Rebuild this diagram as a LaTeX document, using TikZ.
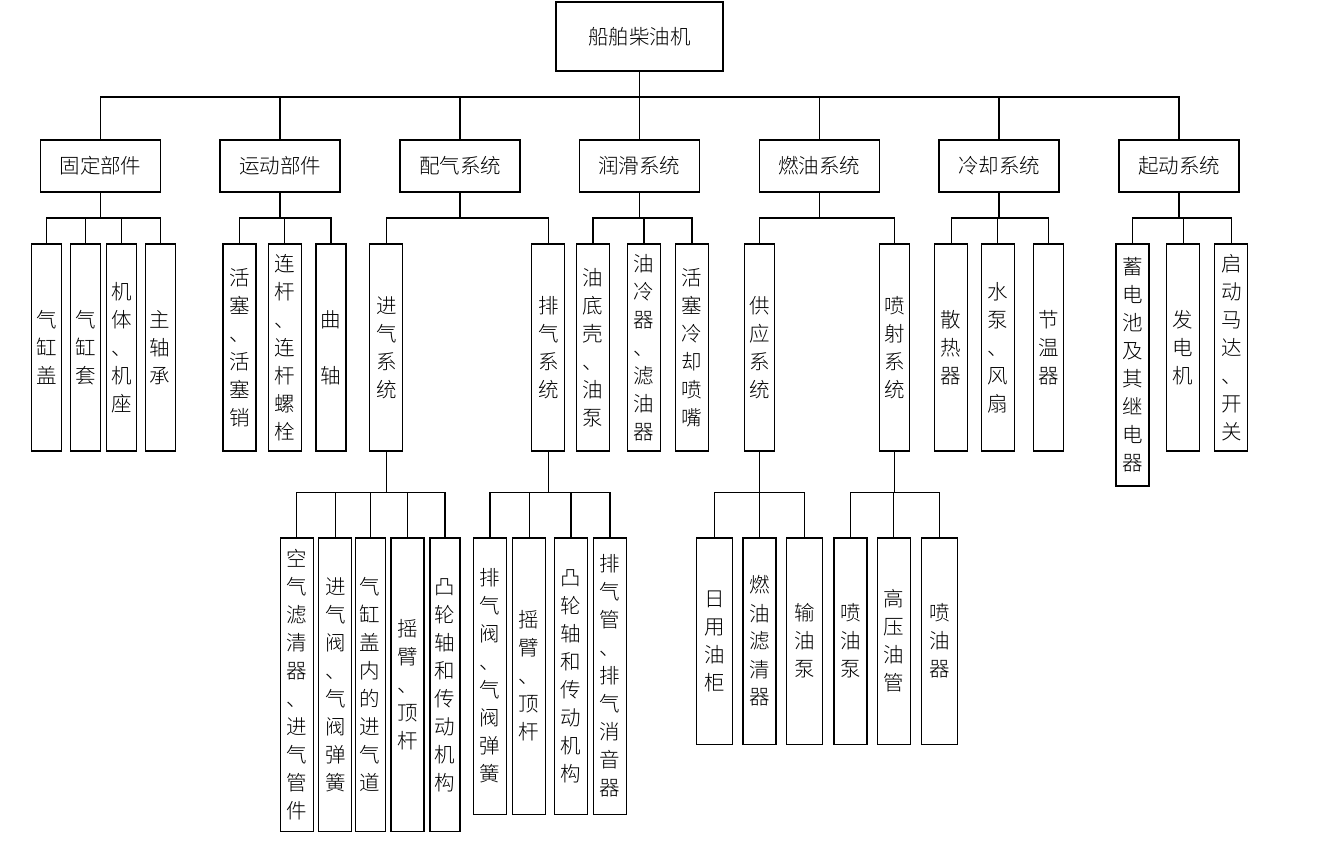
\documentclass[tikz,border=0pt]{standalone}
\usepackage{fontspec}
\newfontfamily\cjk{Noto Sans CJK SC Light}
\begin{document}
\begin{tikzpicture}[x=1pt,y=-1pt,
  box/.style={draw, line width=1.2pt, inner sep=0pt, minimum width=120, minimum height=52, font=\cjk\fontsize{20.5}{24}\selectfont},
  vb/.style={draw, line width=1.2pt, inner sep=0pt, align=center, font=\cjk\fontsize{20.5}{28}\selectfont},
  conn/.style={line width=1.3pt}]
\useasboundingbox (0,0) rectangle (1334,849);
\fill[white] (0,0) rectangle (1334,849);
% root
\node[box, minimum width=167, minimum height=69] (root) at (639.5,36.5) {船舶柴油机};
% level 1
\node[box] (A) at (100.5,166) {固定部件};
\node[box] (B) at (280,166) {运动部件};
\node[box] (C) at (460,166) {配气系统};
\node[box] (D) at (639.3,166) {润滑系统};
\node[box] (E) at (819.2,166) {燃油系统};
\node[box] (F) at (999,166) {冷却系统};
\node[box] (G) at (1179,166) {起动系统};
% level 2
\tikzset{l2/.style={vb, minimum height=207}}
\node[l2, minimum width=30] (A1) at (46.7,347.5) {气\\缸\\盖};
\node[l2, minimum width=30] (A2) at (85.3,347.5) {气\\缸\\套};
\node[l2, minimum width=30] (A3) at (121.5,347.5) {机\\体\\、\\机\\座};
\node[l2, minimum width=30] (A4) at (160.2,347.5) {主\\轴\\承};
\node[l2, minimum width=33] (B1) at (239.5,347.5) {活\\塞\\、\\活\\塞\\销};
\node[l2, minimum width=33] (B2) at (284.7,347.5) {连\\杆\\、\\连\\杆\\螺\\栓};
\node[l2, minimum width=30] (B3) at (331,347.5) {曲\\[28pt]轴};
\node[l2, minimum width=33] (C1) at (386.3,347.5) {进\\气\\系\\统};
\node[l2, minimum width=33] (C2) at (548.3,347.5) {排\\气\\系\\统};
\node[l2, minimum width=33] (D1) at (593,347.5) {油\\底\\壳\\、\\油\\泵};
\node[l2, minimum width=33] (D2) at (644,347.5) {油\\冷\\器\\、\\滤\\油\\器};
\node[l2, minimum width=33] (D3) at (692,347.5) {活\\塞\\冷\\却\\喷\\嘴};
\node[l2, minimum width=30] (E1) at (759.3,347.5) {供\\应\\系\\统};
\node[l2, minimum width=30] (E2) at (894.3,347.5) {喷\\射\\系\\统};
\node[l2, minimum width=33] (F1) at (951.2,347.5) {散\\热\\器};
\node[l2, minimum width=33] (F2) at (997.8,347.5) {水\\泵\\、\\风\\扇};
\node[l2, minimum width=30] (F3) at (1048.5,347.5) {节\\温\\器};
\node[vb, minimum width=33, minimum height=242] (G1) at (1132.5,365) {蓄\\电\\池\\及\\其\\继\\电\\器};
\node[l2, minimum width=33] (G2) at (1183.2,347.5) {发\\电\\机};
\node[l2, minimum width=33] (G3) at (1231.3,347.5) {启\\动\\马\\达\\、\\开\\关};
% level 3
\tikzset{l3a/.style={vb, minimum height=293.7}, l3b/.style={vb, minimum height=276.3}, l3c/.style={vb, minimum height=206.3}}
\node[l3a, minimum width=33] (C11) at (296.7,684.85) {空\\气\\滤\\清\\器\\、\\进\\气\\管\\件};
\node[l3a, minimum width=33] (C12) at (335.3,684.85) {进\\气\\阀\\、\\气\\阀\\弹\\簧};
\node[l3a, minimum width=30] (C13) at (370.2,684.85) {气\\缸\\盖\\内\\的\\进\\气\\道};
\node[l3a, minimum width=33] (C14) at (407.5,684.85) {摇\\臂\\、\\顶\\杆};
\node[l3a, minimum width=30] (C15) at (445,684.85) {凸\\轮\\轴\\和\\传\\动\\机\\构};
\node[l3b, minimum width=33] (C21) at (490,676.15) {排\\气\\阀\\、\\气\\阀\\弹\\簧};
\node[l3b, minimum width=33] (C22) at (529.2,676.15) {摇\\臂\\、\\顶\\杆};
\node[l3b, minimum width=33] (C23) at (571,676.15) {凸\\轮\\轴\\和\\传\\动\\机\\构};
\node[l3b, minimum width=33] (C24) at (610,676.15) {排\\气\\管\\、\\排\\气\\消\\音\\器};
\node[l3c, minimum width=35.6] (E11) at (714.5,641.15) {日\\用\\油\\柜};
\node[l3c, minimum width=33] (E12) at (759.5,641.15) {燃\\油\\滤\\清\\器};
\node[l3c, minimum width=35.6] (E13) at (804.5,641.15) {输\\油\\泵};
\node[l3c, minimum width=33] (E21) at (850.5,641.15) {喷\\油\\泵};
\node[l3c, minimum width=33] (E22) at (893.8,641.15) {高\\压\\油\\管};
\node[l3c, minimum width=36] (E23) at (939.3,641.15) {喷\\油\\器};
% bars
\coordinate (bar0) at (0,97);
\coordinate (bar1) at (0,218);
\coordinate (bar2) at (0,492.3);
\foreach \c in {A,B,C,D,E,F,G}
  \draw[conn] (root.south) -- (root.south |- bar0) -| (\c.north);
\foreach \p/\cs in {A/{A1,A2,A3,A4}, B/{B1,B2,B3}, C/{C1,C2}, D/{D1,D2,D3}, E/{E1,E2}, F/{F1,F2,F3}, G/{G1,G2,G3}}
  \foreach \c in \cs
    \draw[conn] (\p.south) -- (\p.south |- bar1) -| (\c.north);
\foreach \p/\cs in {C1/{C11,C12,C13,C14,C15}, C2/{C21,C22,C23,C24}, E1/{E11,E12,E13}, E2/{E21,E22,E23}}
  \foreach \c in \cs
    \draw[conn] (\p.south) -- (\p.south |- bar2) -| (\c.north);
\end{tikzpicture}
\end{document}
